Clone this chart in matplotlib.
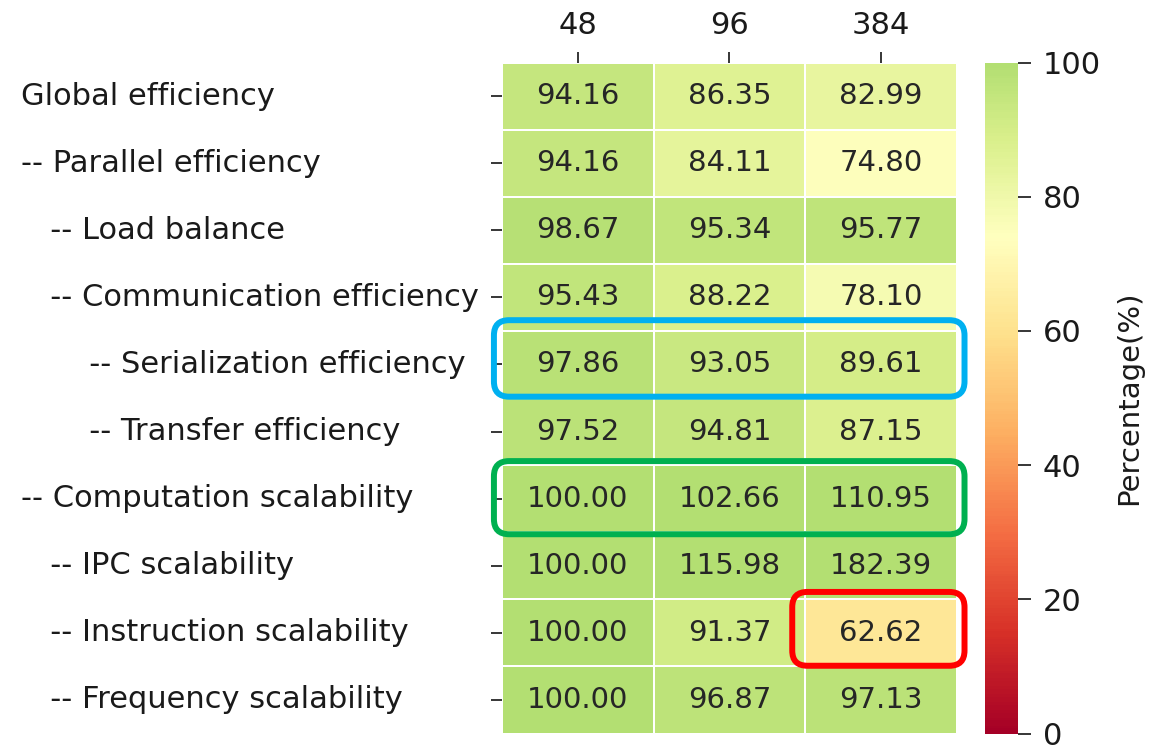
import numpy as np
import matplotlib
matplotlib.use("Agg")
import matplotlib.pyplot as plt
import seaborn as sns
from matplotlib.colors import LinearSegmentedColormap
from matplotlib.patches import FancyBboxPatch

# etiquetas de filas (con sangria) y columnas
metricas = [
    "Global efficiency",
    "-- Parallel efficiency",
    "   -- Load balance",
    "   -- Communication efficiency",
    "       -- Serialization efficiency",
    "       -- Transfer efficiency",
    "-- Computation scalability",
    "   -- IPC scalability",
    "   -- Instruction scalability",
    "   -- Frequency scalability",
]
procesos = ["48", "96", "384"]

eficiencia_48 = [94.16, 94.16, 98.67, 95.43, 97.86, 97.52, 100.00, 100.00, 100.00, 100.00]
eficiencia_96 = [86.35, 84.11, 95.34, 88.22, 93.05, 94.81, 102.66, 115.98, 91.37, 96.87]
eficiencia_384 = [82.99, 74.80, 95.77, 78.10, 89.61, 87.15, 110.95, 182.39, 62.62, 97.13]

datos = np.array([eficiencia_48, eficiencia_96, eficiencia_384]).T

# colormap RdYlGn recortado (sin el verde oscuro)
base = plt.get_cmap("RdYlGn")
cmap = LinearSegmentedColormap.from_list("rdylgn_corto", base(np.linspace(0, 0.675, 256)))

fs = 21
fs_eje = 22
fig = plt.figure(figsize=(11.66, 7.45), dpi=100)
ax = fig.add_axes([0.4305, 0.0154, 0.3902, 0.9007])
cax = fig.add_axes([0.8448, 0.0154, 0.0283, 0.9007])

sns.heatmap(datos, ax=ax, cbar_ax=cax, cmap=cmap, vmin=0, vmax=100,
            annot=True, fmt=".2f", annot_kws={"size": fs},
            linewidths=1.2, linecolor="white",
            xticklabels=procesos, yticklabels=metricas)

ax.xaxis.tick_top()
ax.set_xticklabels(procesos, fontsize=fs_eje, rotation=0, color="#1a1a1a")
ax.set_yticklabels(metricas, fontsize=fs_eje, rotation=0, ha="left", color="#1a1a1a")
ax.tick_params(axis="x", length=8, width=1.1, pad=8)
ax.tick_params(axis="y", length=8, width=1.1, pad=338)

cax.tick_params(labelsize=fs_eje, length=9, width=1.1, pad=9, labelcolor="#1a1a1a")
cax.set_yticks([0, 20, 40, 60, 80, 100])
cax.set_ylabel("Percentage(%)", fontsize=fs, labelpad=10, color="#1a1a1a")

# recuadros de resaltado
recuadros = [
    ((-0.053, 3.84), 3.103, 1.14, "#00b0f0"),
    ((-0.053, 5.94), 3.103, 1.09, "#00b050"),
    ((1.914, 7.89), 1.136, 1.10, "#ff0000"),
]
for (x0, y0), w, h, color in recuadros:
    caja = FancyBboxPatch((x0, y0), w, h,
                          boxstyle="round,pad=0,rounding_size=0.1",
                          mutation_aspect=2.26, fill=False,
                          edgecolor=color, linewidth=4.3, clip_on=False, zorder=5)
    ax.add_patch(caja)

fig.savefig("out.png", dpi=100)
